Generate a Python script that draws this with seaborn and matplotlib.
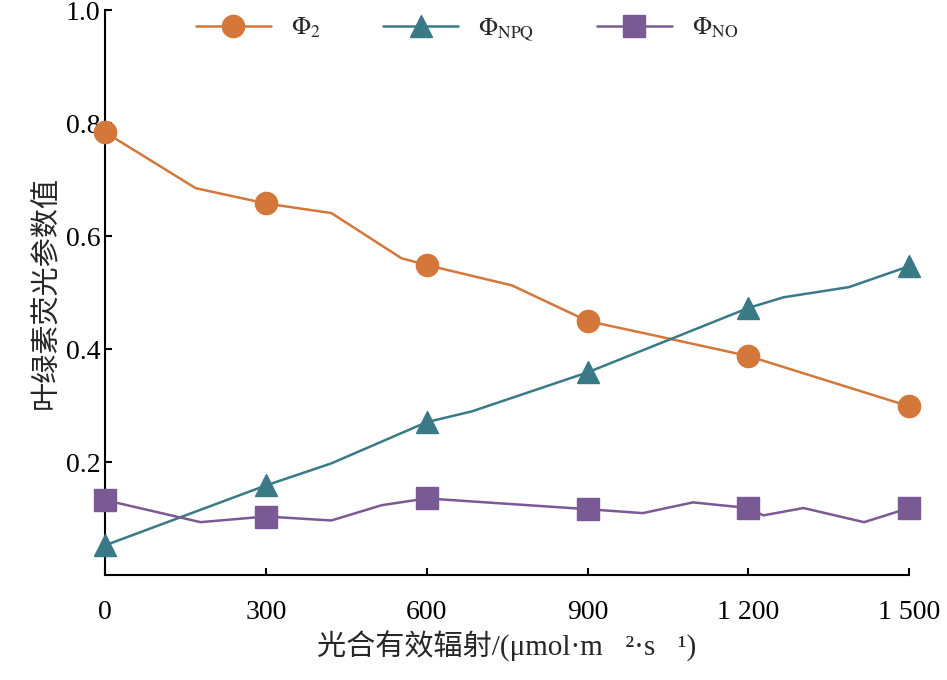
import matplotlib
matplotlib.use("Agg")
import matplotlib.pyplot as plt
import seaborn as sns

sns.set_theme(style="ticks")
plt.rcParams['font.family'] = ['Liberation Serif', 'Noto Sans CJK SC']
plt.rcParams['mathtext.fontset'] = 'stix'

# 标记点
par_marker = [0, 300, 600, 900, 1200, 1500]
phi2_marker = [0.784, 0.658, 0.549, 0.450, 0.388, 0.299]
npq_marker = [0.053, 0.159, 0.271, 0.359, 0.473, 0.547]
no_marker = [0.133, 0.104, 0.136, 0.117, 0.119, 0.119]

# 曲线点（含中间点）
phi2_x = [0, 169, 300, 422, 553, 600, 759, 900, 1022, 1200, 1500]
phi2_y = [0.784, 0.685, 0.658, 0.641, 0.561, 0.549, 0.513, 0.450, 0.425, 0.388, 0.299]
npq_x = [0, 300, 422, 600, 684, 900, 1200, 1266, 1388, 1500]
npq_y = [0.053, 0.159, 0.198, 0.271, 0.290, 0.359, 0.473, 0.492, 0.510, 0.547]
no_x = [0, 178, 300, 422, 516, 600, 900, 1003, 1097, 1200, 1228, 1303, 1416, 1500]
no_y = [0.133, 0.094, 0.104, 0.097, 0.124, 0.136, 0.117, 0.110, 0.129, 0.119, 0.106, 0.119, 0.094, 0.119]

C_PHI2 = "#D4773A"
C_NPQ = "#3A7A87"
C_NO = "#7A5A94"

fig = plt.figure(figsize=(9.47, 6.8), dpi=100)
ax = fig.add_axes([0.111, 0.154, 0.849, 0.831])

series = [
    (phi2_x, phi2_y, phi2_marker, C_PHI2, "o", r"$\Phi_2$"),
    (npq_x, npq_y, npq_marker, C_NPQ, "^", r"$\Phi_{\mathrm{NPQ}}$"),
    (no_x, no_y, no_marker, C_NO, "s", r"$\Phi_{\mathrm{NO}}$"),
]
for lx, ly, my, c, m, lab in series:
    sns.lineplot(x=lx, y=ly, color=c, linewidth=1.8, ax=ax)
    ax.plot(par_marker, my, linestyle="none", marker=m, markersize=16,
            color=c, clip_on=False, zorder=5)
    ax.plot([], [], color=c, marker=m, markersize=16, linewidth=1.8, label=lab)

ax.set_xlim(0, 1500)
ax.set_ylim(0, 1.0)
ax.set_xticks(par_marker)
ax.set_xticklabels(["0", "300", "600", "900", "1 200", "1 500"])
ax.set_yticks([0.2, 0.4, 0.6, 0.8, 1.0])
ax.set_yticklabels(["0.2", "0.4", "0.6", "0.8", "1.0"])
ax.tick_params(labelsize=20, direction="in", length=5, width=1.5, colors="black")
ax.tick_params(axis="x", pad=18)
for s in ["top", "right"]:
    ax.spines[s].set_visible(False)
for s in ["left", "bottom"]:
    ax.spines[s].set_linewidth(1.5)
    ax.spines[s].set_color("black")

ax.set_xlabel("光合有效辐射/(μmol·m⁻²·s⁻¹)", fontsize=21)
ax.set_ylabel("叶绿素荧光参数值", fontsize=21)

ax.legend(loc="upper center", ncol=3, frameon=False, fontsize=18,
          bbox_to_anchor=(0.45, 1.03), handlelength=3, columnspacing=2.5)

fig.savefig("out.png", dpi=100)
